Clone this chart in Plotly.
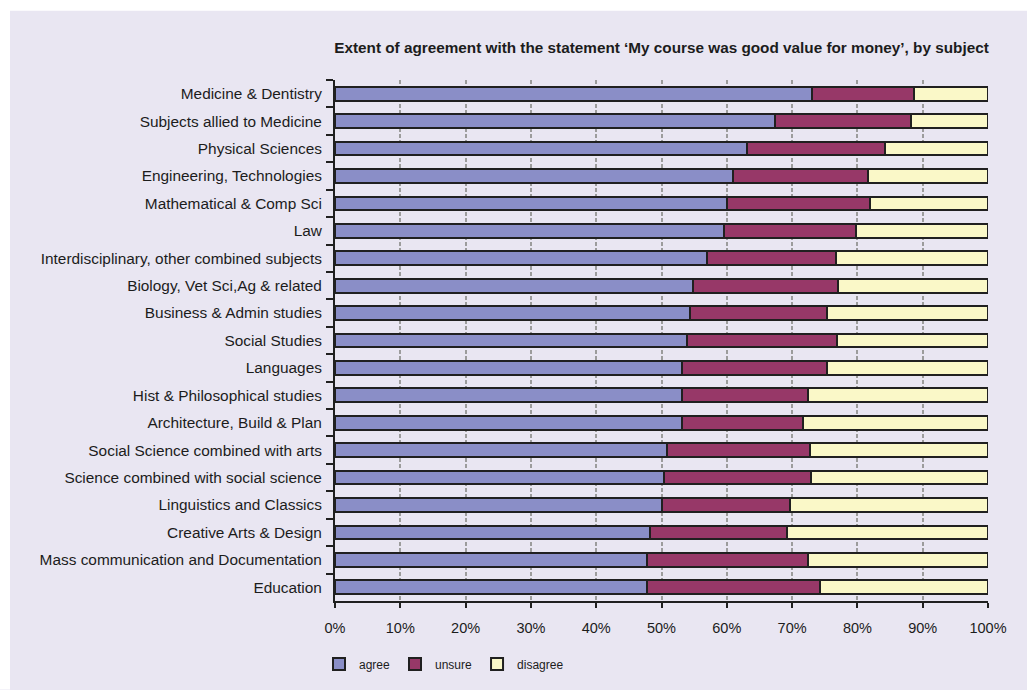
import plotly.graph_objects as go

# Subjects, listed top to bottom
subjects = [
    "Medicine & Dentistry",
    "Subjects allied to Medicine",
    "Physical Sciences",
    "Engineering, Technologies",
    "Mathematical & Comp Sci",
    "Law",
    "Interdisciplinary, other combined subjects",
    "Biology, Vet Sci,Ag & related",
    "Business & Admin studies",
    "Social Studies",
    "Languages",
    "Hist & Philosophical studies",
    "Architecture, Build & Plan",
    "Social Science combined with arts",
    "Science combined with social science",
    "Linguistics and Classics",
    "Creative Arts & Design",
    "Mass communication and Documentation",
    "Education",
]

# Share of respondents (%) per subject
agree = [73.1, 67.4, 63.1, 60.9, 60.0, 59.5, 56.9, 54.8, 54.4, 53.9,
         53.1, 53.1, 53.1, 50.9, 50.4, 50.0, 48.3, 47.8, 47.8]
unsure = [15.5, 20.8, 21.2, 20.7, 22.0, 20.3, 19.8, 22.3, 21.0, 22.9,
          22.3, 19.3, 18.5, 21.9, 22.5, 19.7, 20.9, 24.6, 26.4]
disagree = [11.4, 11.8, 15.7, 18.4, 18.0, 20.2, 23.3, 22.9, 24.6, 23.2,
            24.6, 27.6, 28.4, 27.2, 27.1, 30.3, 30.8, 27.6, 25.8]

series = [
    ("agree", agree, "#8A8EC7"),
    ("unsure", unsure, "#973868"),
    ("disagree", disagree, "#FAF8C8"),
]

FONT = "Liberation Sans, Arial, sans-serif"
PANEL = "#E9E6F2"
INK = "#1c1c1c"

fig = go.Figure()
for name, vals, color in series:
    fig.add_trace(go.Bar(
        y=subjects, x=vals, name=name, orientation="h",
        width=0.5,
        marker=dict(color=color, line=dict(color="#202020", width=2)),
        hoverinfo="x+y+name",
    ))

W, H = 1027, 690
ML, MR, MT, MB = 335, 39, 80, 84
pw, ph = W - ML - MR, H - MT - MB

fig.update_layout(
    width=W, height=H,
    margin=dict(l=ML, r=MR, t=MT, b=MB, pad=0),
    barmode="stack",
    paper_bgcolor=PANEL,
    plot_bgcolor=PANEL,
    font=dict(family=FONT, size=14, color=INK),
    title=dict(
        text="<b>Extent of agreement with the statement \u2018My course was good value for money\u2019, by subject</b>",
        font=dict(family=FONT, size=15.3, color=INK),
        x=(ML + pw / 2) / W, xanchor="center",
        y=1 - 48 / H, yanchor="middle",
    ),
    legend=dict(
        orientation="h",
        x=-16 / pw, xanchor="left",
        y=-(655 - (H - MB)) / ph, yanchor="top",
        font=dict(family=FONT, size=12, color=INK),
        bgcolor="rgba(0,0,0,0)",
        itemclick=False, itemdoubleclick=False,
        traceorder="normal",
    ),
    xaxis=dict(
        range=[0, 100], dtick=10, ticksuffix="%",
        showgrid=True, gridcolor="#9c9c9c", gridwidth=1.5, griddash="4px,2px",
        showline=True, linecolor="#202020", linewidth=2,
        ticks="outside", ticklen=5, tickwidth=2, tickcolor="#202020",
        ticklabelstandoff=8,
        zeroline=False,
        tickfont=dict(family=FONT, size=14.5, color=INK),
    ),
    yaxis=dict(
        autorange="reversed",
        showgrid=False,
        showline=True, linecolor="#202020", linewidth=2,
        ticks="outside", ticklen=7, tickwidth=2, tickcolor="#202020",
        tickson="boundaries",
        ticklabelstandoff=8,
        tickfont=dict(family=FONT, size=15.4, color=INK),
    ),
    showlegend=True,
    shapes=[
        # white outer border strips along the top and left edges
        dict(type="rect", xref="paper", yref="paper", layer="below",
             x0=-ML / pw - 0.01, x1=(W - ML) / pw + 0.01, y0=1 + (MT - 10) / ph, y1=1 + MT / ph + 0.01,
             fillcolor="white", line=dict(width=0)),
        dict(type="rect", xref="paper", yref="paper", layer="below",
             x0=-ML / pw - 0.01, x1=-(ML - 10) / pw, y0=-MB / ph - 0.01, y1=1 + MT / ph + 0.01,
             fillcolor="white", line=dict(width=0)),
    ],
)

fig.write_html(
    "out.html",
    post_script=(
        "document.documentElement.style.background='" + PANEL + "';"
        "document.body.style.background='" + PANEL + "';"
        "document.body.style.margin='0';document.body.style.overflow='hidden';"
    ),
)
